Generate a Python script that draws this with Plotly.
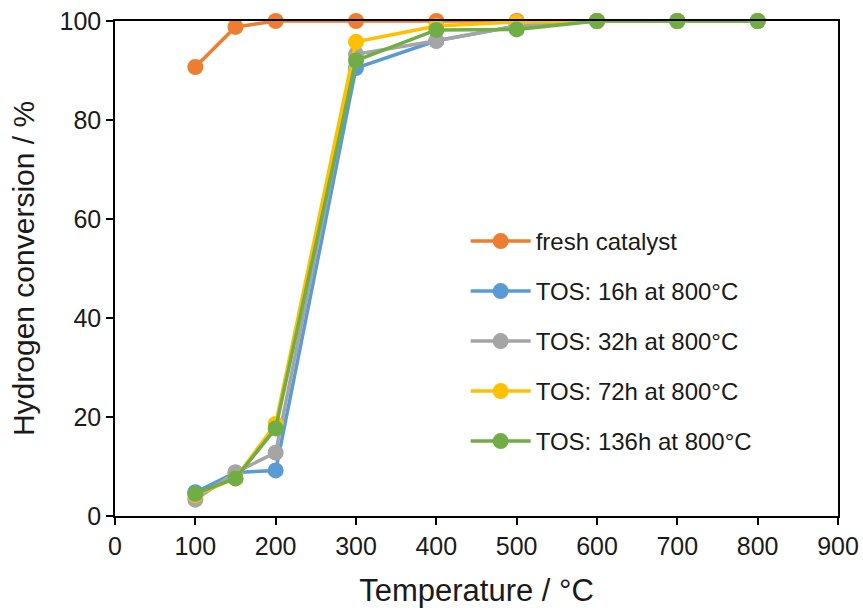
import plotly.graph_objects as go

temperature = [100, 150, 200, 300, 400, 500, 600, 700, 800]
fresh = [90.7, 98.8, 100, 100, 100, 100, 100, 100, 100]
tos_16h = [4.8, 8.8, 9.2, 90.5, 96.0, 99.0, 100, 100, 100]
tos_32h = [3.3, 8.8, 12.8, 93.3, 96.0, 99.0, 100, 100, 100]
tos_72h = [4.2, 7.6, 18.6, 95.8, 99.0, 99.8, 100, 100, 100]
tos_136h = [4.5, 7.6, 17.7, 92.0, 98.2, 98.3, 100, 100, 100]

series_names = ["fresh catalyst", "TOS: 16h at 800°C", "TOS: 32h at 800°C",
                "TOS: 72h at 800°C", "TOS: 136h at 800°C"]
series_values = [fresh, tos_16h, tos_32h, tos_72h, tos_136h]
colors = ["#ED7D31", "#5B9BD5", "#A5A5A5", "#FFC000", "#70AD47"]

x_ticks = list(range(0, 901, 100))
y_ticks = list(range(0, 101, 20))

fig = go.Figure()
for i, (name, vals, col) in enumerate(zip(series_names, series_values, colors)):
    fig.add_trace(go.Scatter(
        x=temperature, y=vals, name=name, mode="lines+markers",
        line=dict(color=col, width=3.5),
        marker=dict(color=col, size=16, symbol="circle"),
        cliponaxis=False, legendgroup=f"g{i}",
    ))

axis_common = dict(
    showline=True, linecolor="black", linewidth=1.5, mirror=True,
    ticks="outside", ticklen=7, tickcolor="black", tickwidth=1.5,
    showgrid=False, zeroline=False, automargin=False,
    tickfont=dict(family="Liberation Sans, Arial", size=25, color="#1a1a1a"),
)

fig.update_layout(
    width=863, height=608,
    margin=dict(l=115, r=25, t=21, b=92),
    paper_bgcolor="white", plot_bgcolor="white",
    font=dict(family="Liberation Sans, Arial", color="#1a1a1a"),
    xaxis=dict(range=[0, 900], tickvals=x_ticks,
               title=dict(text="Temperature / °C", font=dict(size=31), standoff=22),
               **axis_common),
    yaxis=dict(range=[0, 100], tickvals=y_ticks,
               title=dict(text="Hydrogen conversion / %", font=dict(size=30), standoff=16),
               **axis_common),
    legend=dict(x=0.485, y=0.600, xanchor="left", yanchor="top",
                font=dict(size=24, color="#1a1a1a"), bgcolor="rgba(0,0,0,0)",
                tracegroupgap=15.8, itemwidth=60),
    showlegend=True,
)

fig.write_html("out.html")
